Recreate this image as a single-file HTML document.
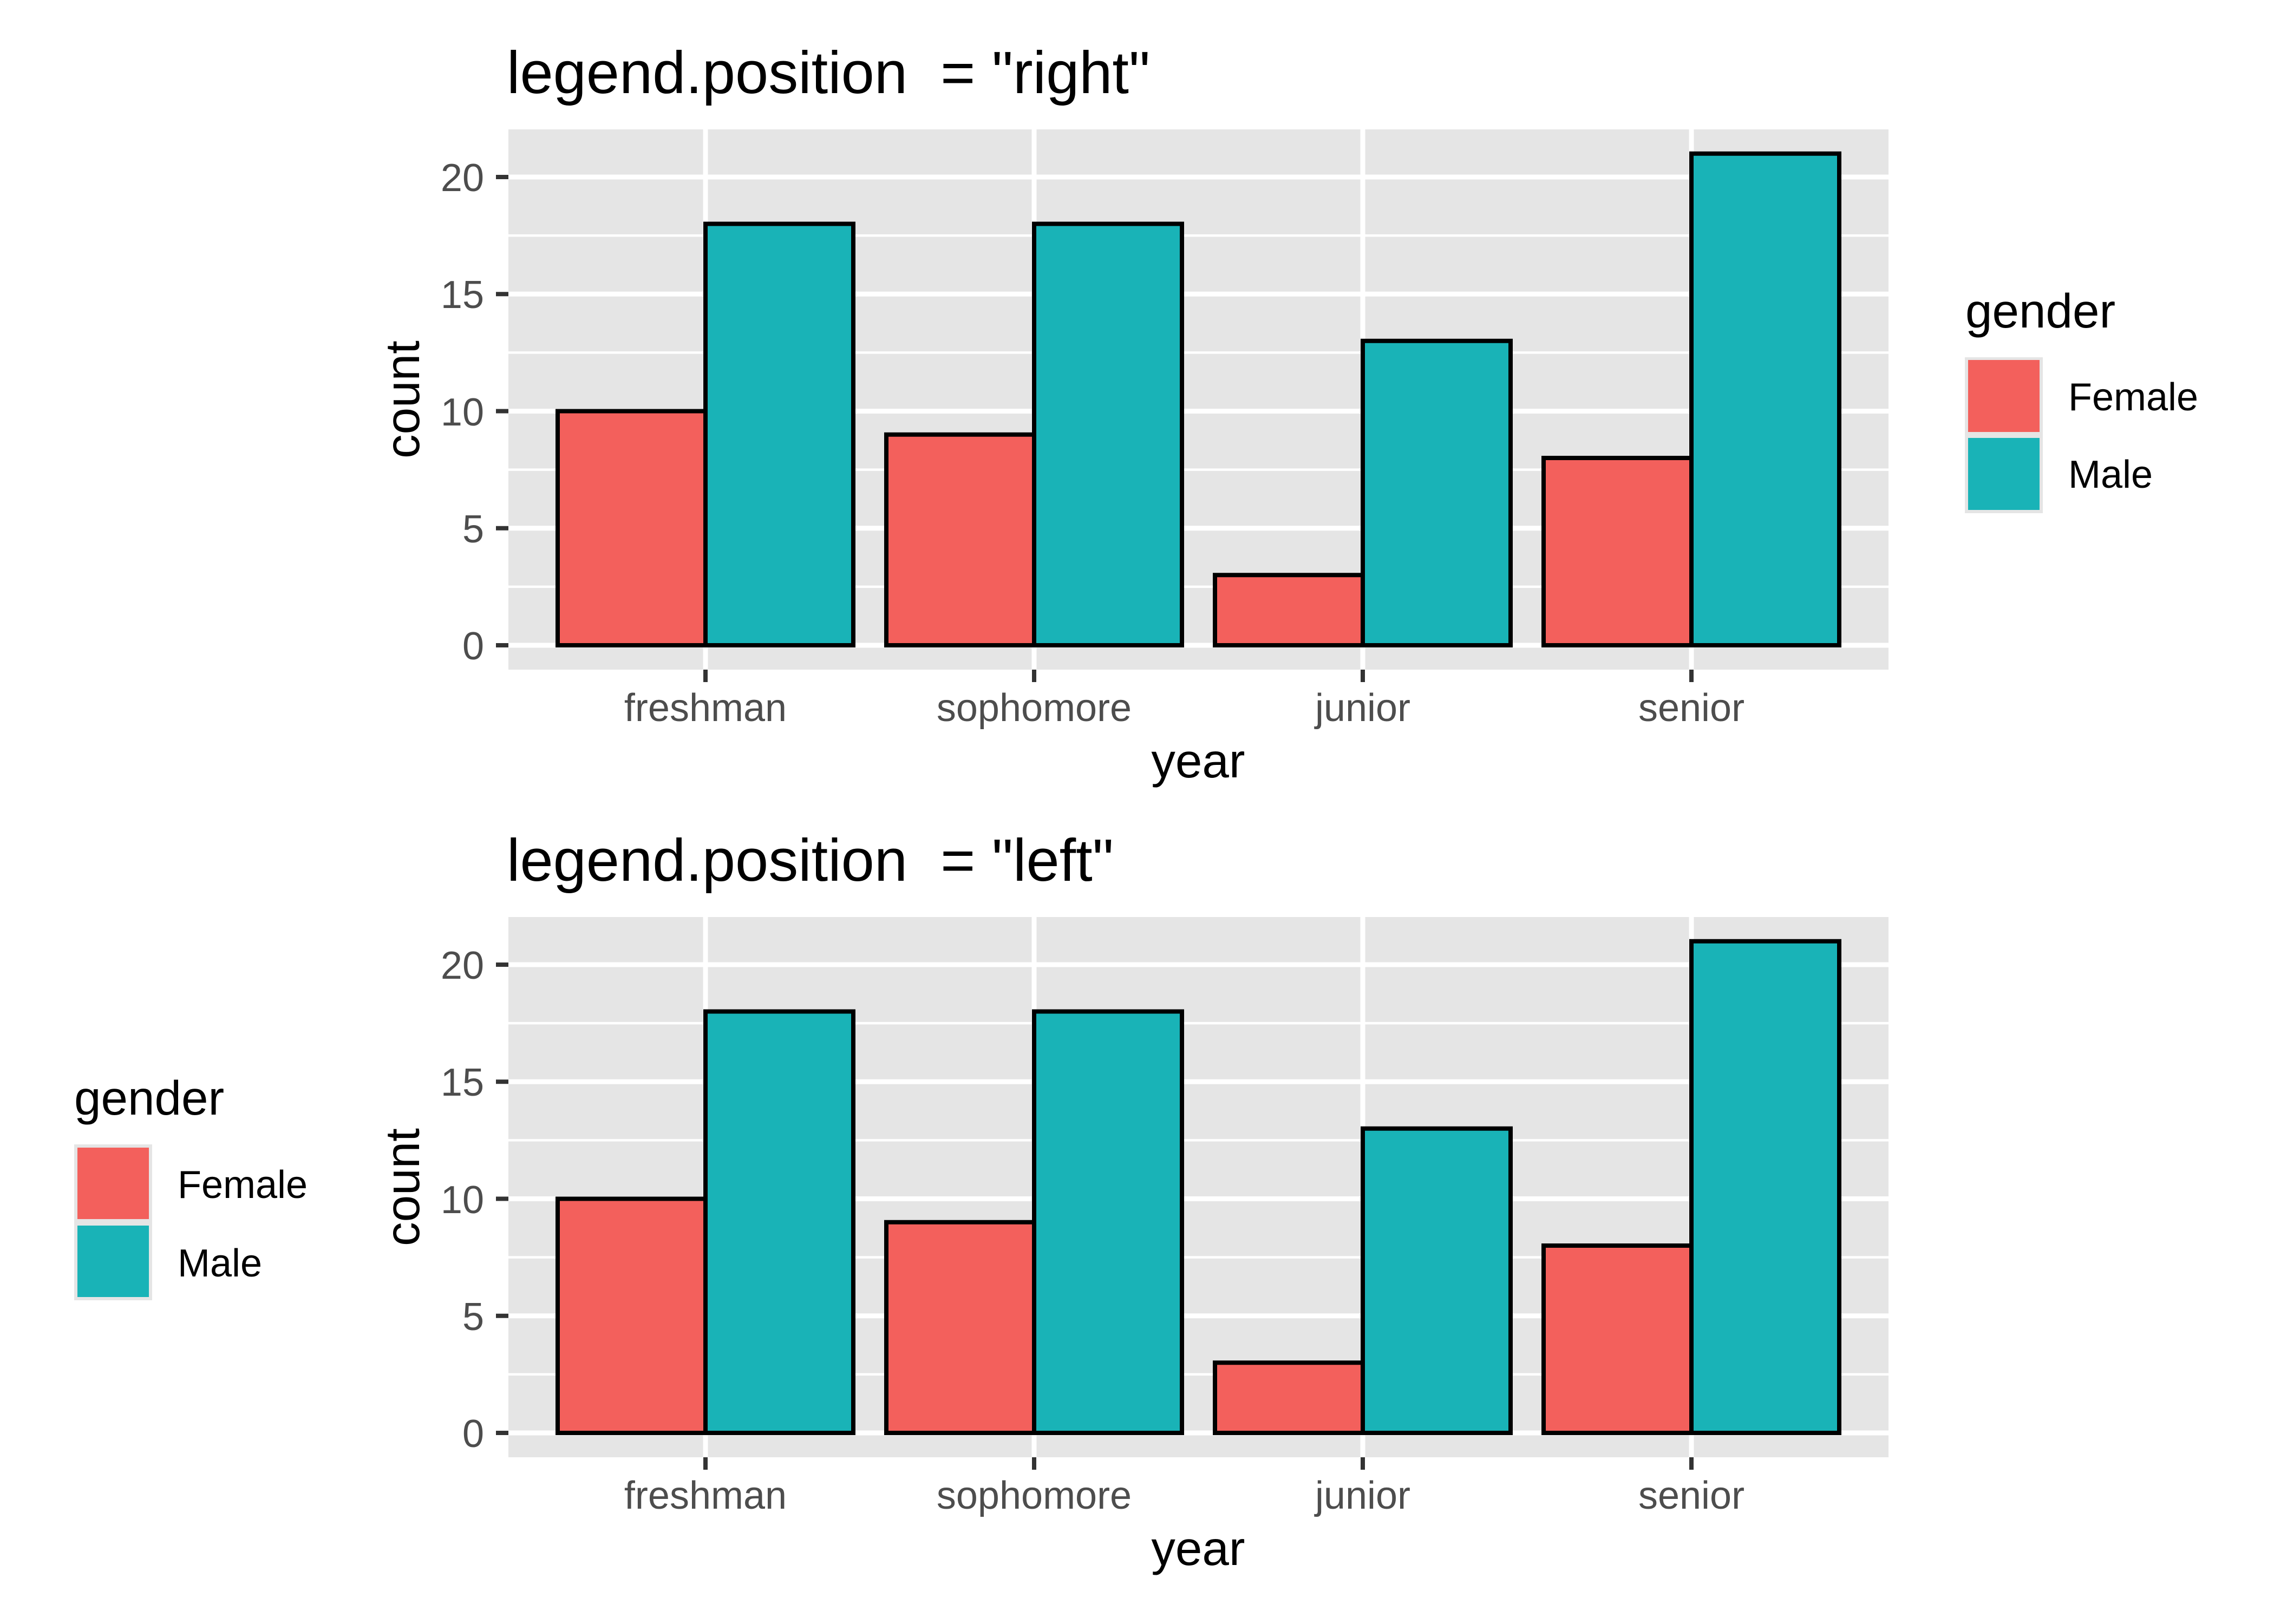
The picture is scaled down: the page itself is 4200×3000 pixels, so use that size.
<!DOCTYPE html>
<html><head><meta charset="utf-8"><style>
html,body{margin:0;padding:0;background:#fff;}
svg{display:block;}
text{font-family:"Liberation Sans",Arial,sans-serif;white-space:pre;}
</style></head><body>
<svg width="4200" height="3000" viewBox="0 0 4200 3000" xmlns="http://www.w3.org/2000/svg" xml:space="preserve">
<rect width="4200" height="3000" fill="#fff"/>

<!-- ===== TOP PLOT ===== -->
<g>
<text x="936" y="172" font-size="110" fill="#000">legend.position  = "right"</text>
<rect x="939" y="239" width="2549" height="998" fill="#e5e5e5"/>
<g stroke="#fff" stroke-width="4.5">
<line x1="939" x2="3488" y1="1083.9" y2="1083.9"/><line x1="939" x2="3488" y1="867.6" y2="867.6"/>
<line x1="939" x2="3488" y1="651.4" y2="651.4"/><line x1="939" x2="3488" y1="435.1" y2="435.1"/>
</g>
<g stroke="#fff" stroke-width="9">
<line x1="939" x2="3488" y1="1192" y2="1192"/><line x1="939" x2="3488" y1="975.75" y2="975.75"/>
<line x1="939" x2="3488" y1="759.5" y2="759.5"/><line x1="939" x2="3488" y1="543.25" y2="543.25"/>
<line x1="939" x2="3488" y1="327" y2="327"/>
<line x1="1303" x2="1303" y1="239" y2="1237"/><line x1="1910" x2="1910" y1="239" y2="1237"/>
<line x1="2517" x2="2517" y1="239" y2="1237"/><line x1="3124" x2="3124" y1="239" y2="1237"/>
</g>
<g stroke="#000" stroke-width="8">
<rect x="1030" y="759.5" width="273" height="432.5" fill="#F3605C"/>
<rect x="1303" y="413.5" width="273" height="778.5" fill="#19B3B7"/>
<rect x="1637" y="802.75" width="273" height="389.25" fill="#F3605C"/>
<rect x="1910" y="413.5" width="273" height="778.5" fill="#19B3B7"/>
<rect x="2244" y="1062.25" width="273" height="129.75" fill="#F3605C"/>
<rect x="2517" y="629.75" width="273" height="562.25" fill="#19B3B7"/>
<rect x="2851" y="846" width="273" height="346" fill="#F3605C"/>
<rect x="3124" y="283.75" width="273" height="908.25" fill="#19B3B7"/>
</g>
<g stroke="#333" stroke-width="8">
<line x1="916" x2="939" y1="1192" y2="1192"/><line x1="916" x2="939" y1="975.75" y2="975.75"/>
<line x1="916" x2="939" y1="759.5" y2="759.5"/><line x1="916" x2="939" y1="543.25" y2="543.25"/>
<line x1="916" x2="939" y1="327" y2="327"/>
<line x1="1303" x2="1303" y1="1237" y2="1260"/><line x1="1910" x2="1910" y1="1237" y2="1260"/>
<line x1="2517" x2="2517" y1="1237" y2="1260"/><line x1="3124" x2="3124" y1="1237" y2="1260"/>
</g>
<g font-size="72" fill="#4d4d4d" text-anchor="end">
<text x="894" y="1218">0</text><text x="894" y="1002">5</text><text x="894" y="786">10</text>
<text x="894" y="569">15</text><text x="894" y="353">20</text>
</g>
<g font-size="72" fill="#4d4d4d" text-anchor="middle">
<text x="1303" y="1332">freshman</text><text x="1910" y="1332">sophomore</text>
<text x="2517" y="1332">junior</text><text x="3124" y="1332">senior</text>
</g>
<text x="2213" y="1436" font-size="89" text-anchor="middle" fill="#000">year</text>
<text transform="translate(774,738) rotate(-90)" font-size="89" text-anchor="middle" fill="#000">count</text>
<!-- legend right -->
<text x="3630" y="605" font-size="89" fill="#000">gender</text>
<rect x="3629" y="660" width="144" height="288" fill="#e5e5e5"/>
<rect x="3635" y="665" width="132" height="133" fill="#F3605C"/>
<rect x="3635" y="809" width="132" height="133" fill="#19B3B7"/>
<text x="3820" y="758" font-size="72" fill="#000">Female</text>
<text x="3820" y="901" font-size="72" fill="#000">Male</text>
</g>

<!-- ===== BOTTOM PLOT ===== -->
<g transform="translate(0,1455)">
<text x="936" y="172" font-size="110" fill="#000">legend.position  = "left"</text>
<rect x="939" y="239" width="2549" height="998" fill="#e5e5e5"/>
<g stroke="#fff" stroke-width="4.5">
<line x1="939" x2="3488" y1="1083.9" y2="1083.9"/><line x1="939" x2="3488" y1="867.6" y2="867.6"/>
<line x1="939" x2="3488" y1="651.4" y2="651.4"/><line x1="939" x2="3488" y1="435.1" y2="435.1"/>
</g>
<g stroke="#fff" stroke-width="9">
<line x1="939" x2="3488" y1="1192" y2="1192"/><line x1="939" x2="3488" y1="975.75" y2="975.75"/>
<line x1="939" x2="3488" y1="759.5" y2="759.5"/><line x1="939" x2="3488" y1="543.25" y2="543.25"/>
<line x1="939" x2="3488" y1="327" y2="327"/>
<line x1="1303" x2="1303" y1="239" y2="1237"/><line x1="1910" x2="1910" y1="239" y2="1237"/>
<line x1="2517" x2="2517" y1="239" y2="1237"/><line x1="3124" x2="3124" y1="239" y2="1237"/>
</g>
<g stroke="#000" stroke-width="8">
<rect x="1030" y="759.5" width="273" height="432.5" fill="#F3605C"/>
<rect x="1303" y="413.5" width="273" height="778.5" fill="#19B3B7"/>
<rect x="1637" y="802.75" width="273" height="389.25" fill="#F3605C"/>
<rect x="1910" y="413.5" width="273" height="778.5" fill="#19B3B7"/>
<rect x="2244" y="1062.25" width="273" height="129.75" fill="#F3605C"/>
<rect x="2517" y="629.75" width="273" height="562.25" fill="#19B3B7"/>
<rect x="2851" y="846" width="273" height="346" fill="#F3605C"/>
<rect x="3124" y="283.75" width="273" height="908.25" fill="#19B3B7"/>
</g>
<g stroke="#333" stroke-width="8">
<line x1="916" x2="939" y1="1192" y2="1192"/><line x1="916" x2="939" y1="975.75" y2="975.75"/>
<line x1="916" x2="939" y1="759.5" y2="759.5"/><line x1="916" x2="939" y1="543.25" y2="543.25"/>
<line x1="916" x2="939" y1="327" y2="327"/>
<line x1="1303" x2="1303" y1="1237" y2="1260"/><line x1="1910" x2="1910" y1="1237" y2="1260"/>
<line x1="2517" x2="2517" y1="1237" y2="1260"/><line x1="3124" x2="3124" y1="1237" y2="1260"/>
</g>
<g font-size="72" fill="#4d4d4d" text-anchor="end">
<text x="894" y="1218">0</text><text x="894" y="1002">5</text><text x="894" y="786">10</text>
<text x="894" y="569">15</text><text x="894" y="353">20</text>
</g>
<g font-size="72" fill="#4d4d4d" text-anchor="middle">
<text x="1303" y="1332">freshman</text><text x="1910" y="1332">sophomore</text>
<text x="2517" y="1332">junior</text><text x="3124" y="1332">senior</text>
</g>
<text x="2213" y="1436" font-size="89" text-anchor="middle" fill="#000">year</text>
<text transform="translate(774,738) rotate(-90)" font-size="89" text-anchor="middle" fill="#000">count</text>
</g>
<!-- legend left -->
<text x="137" y="2059" font-size="89" fill="#000">gender</text>
<rect x="137" y="2114" width="144" height="288" fill="#e5e5e5"/>
<rect x="143" y="2120" width="132" height="132" fill="#F3605C"/>
<rect x="143" y="2264" width="132" height="132" fill="#19B3B7"/>
<text x="328" y="2213" font-size="72" fill="#000">Female</text>
<text x="328" y="2358" font-size="72" fill="#000">Male</text>
</svg>
</body></html>
